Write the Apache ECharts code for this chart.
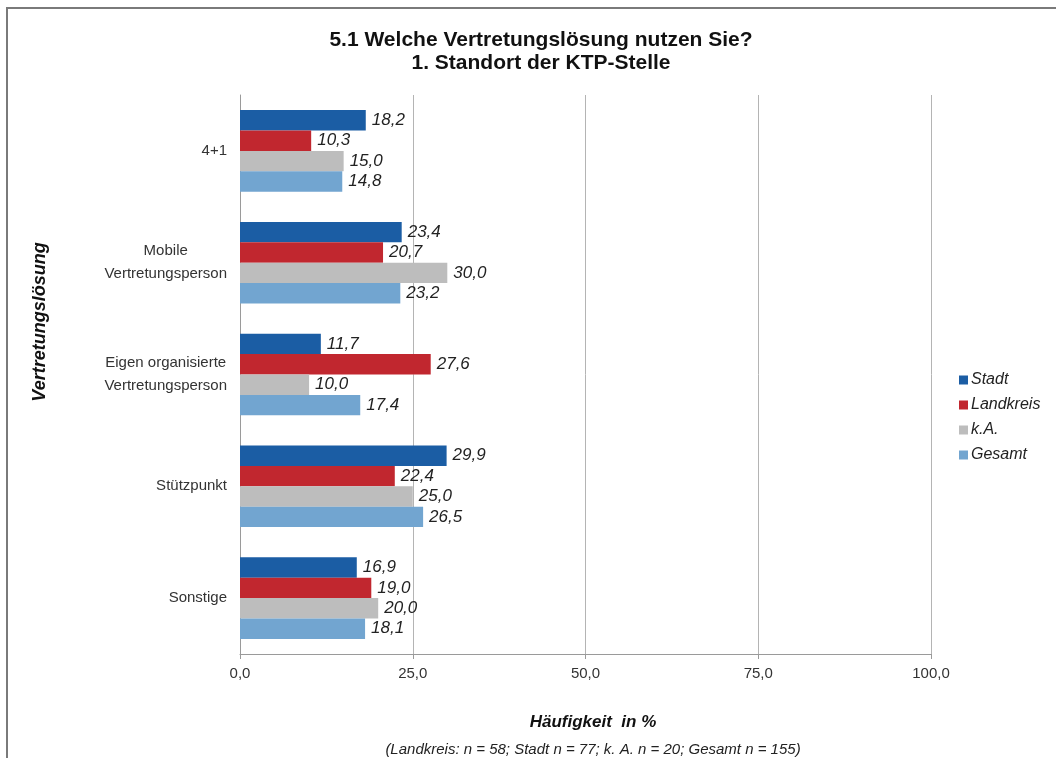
<!DOCTYPE html>
<html>
<head>
<meta charset="utf-8">
<script src="https://cdn.jsdelivr.net/npm/echarts@6/dist/echarts.min.js"></script>
<style>
  html, body { margin: 0; padding: 0; background: #fff; }
  #chart { width: 1056px; height: 758px; }
</style>
</head>
<body>
<div id="chart"></div>
<script>
  // Kategorien (von oben nach unten)
  var categories = ['4+1', 'Mobile\nVertretungsperson', 'Eigen organisierte\nVertretungsperson', 'Stützpunkt', 'Sonstige'];
  var seriesNames = ['Stadt', 'Landkreis', 'k.A.', 'Gesamt'];
  var stadt = [18.2, 23.4, 11.7, 29.9, 16.9];
  var landkreis = [10.3, 20.7, 27.6, 22.4, 19.0];
  var keineAngabe = [15.0, 30.0, 10.0, 25.0, 20.0];
  var gesamt = [14.8, 23.2, 17.4, 26.5, 18.1];
  var xTicks = [0, 25, 50, 75, 100];

  var colors = ['#1b5da4', '#c1272f', '#bdbdbd', '#72a5d0'];
  var font = '"Liberation Sans", Arial, sans-serif';

  function komma(v) {
    return Number(v).toFixed(1).replace('.', ',');
  }

  var chart = echarts.init(document.getElementById('chart'));

  var seriesData = [stadt, landkreis, keineAngabe, gesamt];
  var series = seriesNames.map(function (name, i) {
    return {
      name: name,
      type: 'bar',
      data: seriesData[i],
      barGap: '0%',
      barCategoryGap: '27%',
      itemStyle: { color: colors[i] },
      label: {
        show: true,
        position: 'right',
        distance: 6,
        color: '#222',
        fontFamily: font,
        fontStyle: 'italic',
        fontSize: 17,
        formatter: function (p) { return komma(p.value); }
      }
    };
  });

  chart.setOption({
    backgroundColor: '#fff',
    animation: false,
    title: [{
      text: '5.1 Welche Vertretungslösung nutzen Sie?\n1. Standort der KTP-Stelle',
      left: 536,
      top: 24,
      textAlign: 'center',
      textStyle: {
        fontFamily: font,
        fontWeight: 'bold',
        fontSize: 21,
        lineHeight: 23,
        color: '#111'
      }
    }, {
      text: 'Häufigkeit  in %',
      left: 588,
      top: 709,
      textAlign: 'center',
      textStyle: {
        fontFamily: font,
        fontWeight: 'bold',
        fontStyle: 'italic',
        fontSize: 17,
        color: '#111'
      }
    }, {
      text: '(Landkreis: n = 58; Stadt n = 77; k. A. n = 20; Gesamt n = 155)',
      left: 588,
      top: 737,
      textAlign: 'center',
      textStyle: {
        fontFamily: font,
        fontWeight: 'normal',
        fontStyle: 'italic',
        fontSize: 15,
        color: '#222'
      }
    }],
    legend: {
      orient: 'vertical',
      left: 959,
      top: 372,
      padding: 0,
      itemWidth: 9,
      itemHeight: 9,
      itemGap: 9,
      icon: 'rect',
      data: seriesNames,
      textStyle: {
        fontFamily: font,
        fontStyle: 'italic',
        fontSize: 16,
        lineHeight: 16,
        color: '#222',
        padding: [0, 0, 0, -2]
      }
    },
    grid: {
      left: 240,
      right: 125,
      top: 95,
      bottom: 104,
      containLabel: false
    },
    xAxis: {
      type: 'value',
      min: xTicks[0],
      max: xTicks[xTicks.length - 1],
      interval: 25,
      axisLine: { show: true, lineStyle: { color: '#9a9a9a', width: 1 } },
      axisTick: { show: true, length: 5, lineStyle: { color: '#9a9a9a' } },
      splitLine: { show: true, lineStyle: { color: '#b4b4b4', width: 1 } },
      axisLabel: {
        margin: 12,
        fontFamily: font,
        fontSize: 15,
        color: '#333',
        formatter: function (v) { return komma(v); }
      }
    },
    yAxis: {
      type: 'category',
      inverse: true,
      data: categories,
      axisLine: { show: true, lineStyle: { color: '#9a9a9a', width: 1 } },
      axisTick: { show: false },
      axisLabel: {
        margin: 13,
        align: 'right',
        fontFamily: font,
        fontSize: 15,
        color: '#333',
        formatter: function (v) {
          return v.split('\n').map(function (s) { return '{c|' + s + '}'; }).join('\n');
        },
        rich: {
          c: {
            align: 'center',
            fontFamily: font,
            fontSize: 15,
            lineHeight: 23,
            color: '#333'
          }
        }
      }
    },
    graphic: [{
      type: 'rect',
      shape: { x: 7, y: 8, width: 1200, height: 900 },
      style: { fill: 'none', stroke: '#7a7a7a', lineWidth: 2 },
      silent: true
    }, {
      type: 'text',
      x: 40,
      y: 322,
      rotation: Math.PI / 2,
      style: {
        text: 'Vertretungslösung',
        fontFamily: font,
        fontWeight: 'bold',
        fontStyle: 'italic',
        fontSize: 18,
        fill: '#111',
        align: 'center',
        verticalAlign: 'middle'
      }
    }],
    series: series
  });
</script>
</body>
</html>
